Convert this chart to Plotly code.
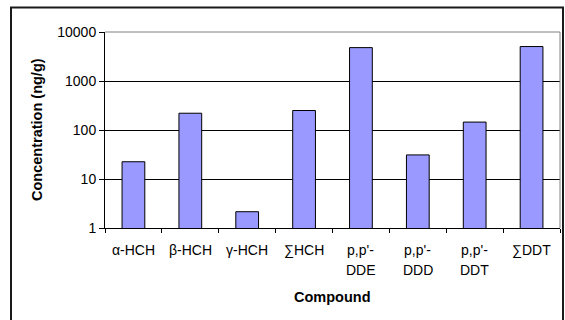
import plotly.graph_objects as go

# Organochlorine pesticide concentrations (ng/g)
compounds = ["α-HCH", "β-HCH", "γ-HCH", "∑HCH", "p,p'-\nDDE", "p,p'-\nDDD", "p,p'-\nDDT", "∑DDT"]
concentrations = [22.5, 220, 2.15, 250, 4800, 31, 145, 5050]

y_tick_values = [1, 10, 100, 1000, 10000]
y_tick_labels = ["1", "10", "100", "1000", "10000"]

FONT = "Arial, 'Liberation Sans', sans-serif"
BAR_FILL = "#9999FF"
TICK_SIZE = 14
TITLE_SIZE = 14.5

fig = go.Figure(
    go.Bar(
        x=list(range(len(compounds))),
        y=concentrations,
        marker=dict(color=BAR_FILL, line=dict(color="black", width=1)),
        hoverinfo="x+y",
    )
)

fig.update_layout(
    width=565,
    height=320,
    margin=dict(l=105, r=5, t=32, b=92),
    paper_bgcolor="white",
    plot_bgcolor="white",
    bargap=0.6,
    showlegend=False,
    font=dict(family=FONT, size=TICK_SIZE, color="black"),
)

fig.update_xaxes(
    type="linear",
    range=[-0.5, len(compounds) - 0.5],
    tickvals=[i - 0.5 for i in range(len(compounds) + 1)],
    showticklabels=False,
    ticks="outside",
    ticklen=4,
    tickcolor="black",
    showline=True,
    linecolor="black",
    linewidth=1,
    showgrid=False,
    zeroline=False,
)

fig.update_yaxes(
    type="log",
    range=[0, 4],
    tickvals=y_tick_values,
    ticktext=y_tick_labels,
    ticks="outside",
    ticklen=5,
    tickcolor="black",
    tickfont=dict(size=TICK_SIZE),
    showline=True,
    linecolor="black",
    linewidth=1,
    showgrid=True,
    gridcolor="black",
    gridwidth=1,
    zeroline=False,
)

annotations = []
# Category labels, one annotation per text line
for i, name in enumerate(compounds):
    for j, line in enumerate(name.split("\n")):
        annotations.append(dict(
            x=i, y=0, xref="x", yref="paper",
            text=line, showarrow=False,
            xanchor="center", yanchor="middle",
            yshift=-22 - 19.5 * j,
            font=dict(size=TICK_SIZE),
        ))

# Axis titles
annotations.append(dict(
    x=0.5, y=0, xref="paper", yref="paper",
    text="<b>Compound</b>", showarrow=False,
    xanchor="center", yanchor="middle", yshift=-69,
    font=dict(size=TITLE_SIZE),
))
annotations.append(dict(
    x=0, y=0.5, xref="paper", yref="paper",
    text="<b>Concentration (ng/g)</b>", showarrow=False,
    textangle=-90, xanchor="center", yanchor="middle", xshift=-68,
    font=dict(size=TITLE_SIZE),
))
fig.update_layout(annotations=annotations)

shapes = [
    # grey plot-area border on top and right
    dict(type="line", xref="paper", yref="paper", x0=0, x1=1, y0=1, y1=1,
         line=dict(color="#808080", width=1), layer="above"),
    dict(type="line", xref="paper", yref="paper", x0=1, x1=1, y0=0, y1=1,
         line=dict(color="#808080", width=1), layer="above"),
    # outer chart frame
    dict(type="rect", xref="paper", yref="paper",
         x0=(11 - 105) / 455, x1=(563 - 105) / 455,
         y0=(228 - 340) / 196, y1=(228 - 7.5) / 196,
         line=dict(color="#1a1a1a", width=2), fillcolor="rgba(0,0,0,0)", layer="above"),
]
fig.update_layout(shapes=shapes)

fig.write_html("out.html")
